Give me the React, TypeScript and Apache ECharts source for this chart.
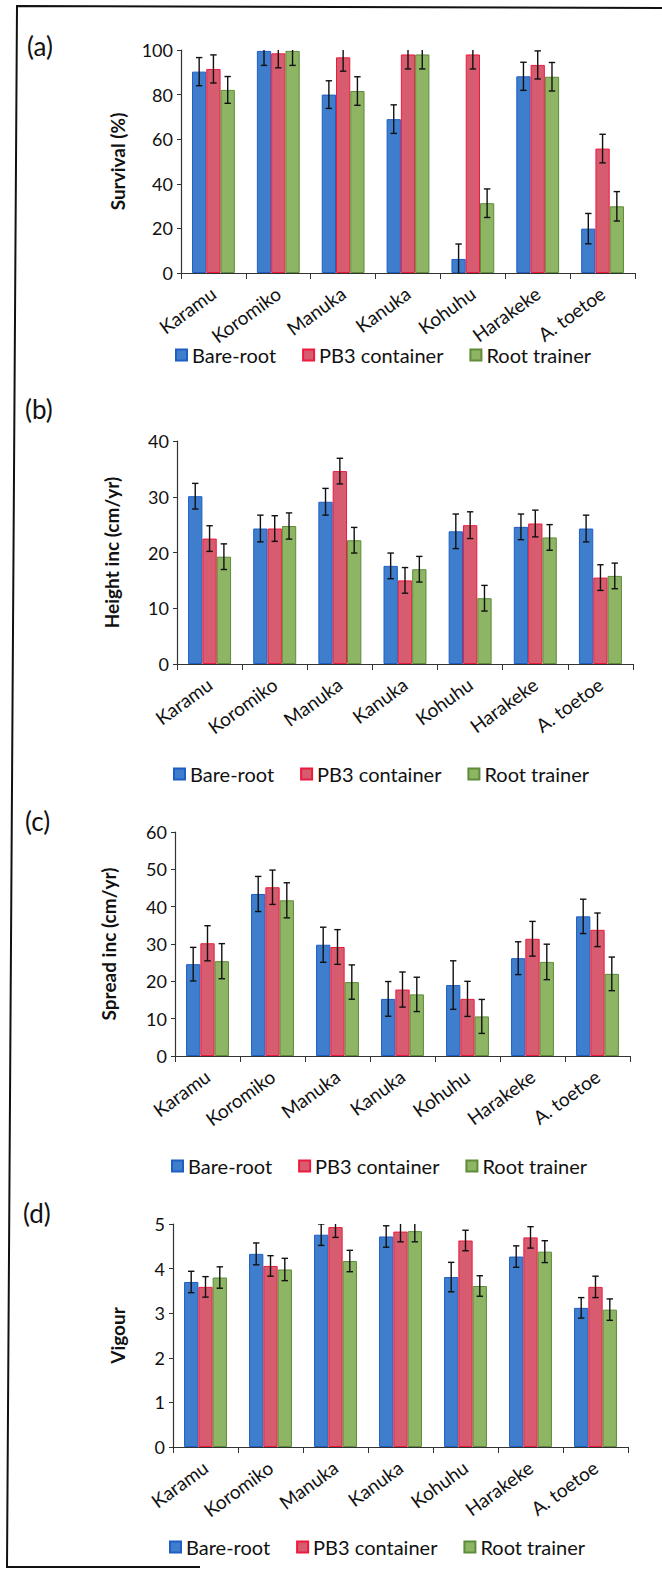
import React, { useEffect, useRef } from "react";
import * as echarts from "echarts";

const categories = ["Karamu", "Koromiko", "Manuka", "Kanuka", "Kohuhu", "Harakeke", "A. toetoe"];
const seriesNames = ["Bare-root", "PB3 container", "Root trainer"];

// (a) Survival (%)
const survivalBare = [90.3, 99.6, 80, 69, 6.3, 88.2, 19.9];
const survivalPB3 = [91.5, 98.5, 96.7, 98, 98, 93.3, 55.8];
const survivalRoot = [82.1, 99.6, 81.6, 98, 31.3, 88, 29.9];
const survivalBareErr = [6.3, 6.5, 6.2, 6.4, 6.7, 6.3, 6.8];
const survivalPB3Err = [6.3, 6.5, 6.2, 6.5, 6.5, 6.3, 6.4];
const survivalRootErr = [6.0, 6.5, 6.4, 6.5, 6.4, 6.4, 6.6];

// (b) Height inc (cm/yr)
const heightBare = [30.1, 24.3, 29.1, 17.6, 23.8, 24.6, 24.3];
const heightPB3 = [22.5, 24.3, 34.6, 15.0, 24.9, 25.2, 15.5];
const heightRoot = [19.25, 24.75, 22.2, 17.0, 11.8, 22.7, 15.8];
const heightBareErr = [2.3, 2.4, 2.4, 2.3, 3.1, 2.3, 2.4];
const heightPB3Err = [2.3, 2.3, 2.3, 2.3, 2.4, 2.4, 2.3];
const heightRootErr = [2.3, 2.35, 2.3, 2.3, 2.3, 2.3, 2.3];

// (c) Spread inc (cm/yr)
const spreadBare = [24.6, 43.4, 29.8, 15.3, 19.0, 26.2, 37.4];
const spreadPB3 = [30.2, 45.2, 29.2, 17.8, 15.3, 31.4, 33.8];
const spreadRoot = [25.4, 41.7, 19.8, 16.5, 10.6, 25.2, 22.0];
const spreadBareErr = [4.5, 4.7, 4.7, 4.65, 6.5, 4.4, 4.6];
const spreadPB3Err = [4.7, 4.6, 4.65, 4.7, 4.7, 4.65, 4.5];
const spreadRootErr = [4.7, 4.7, 4.6, 4.6, 4.55, 4.75, 4.5];

// (d) Vigour
const vigourBare = [3.7, 4.33, 4.76, 4.72, 3.81, 4.27, 3.12];
const vigourPB3 = [3.59, 4.06, 4.93, 4.83, 4.63, 4.7, 3.59];
const vigourRoot = [3.8, 3.98, 4.17, 4.84, 3.61, 4.38, 3.08];
const vigourBareErr = [0.24, 0.245, 0.24, 0.24, 0.33, 0.24, 0.23];
const vigourPB3Err = [0.23, 0.23, 0.23, 0.23, 0.23, 0.24, 0.24];
const vigourRootErr = [0.24, 0.25, 0.24, 0.24, 0.23, 0.245, 0.24];

const panelLabels = ["(a)", "(b)", "(c)", "(d)"];
const yTitles = ["Survival (%)", "Height inc (cm/yr)", "Spread inc (cm/yr)", "Vigour"];
const yMax = [100, 40, 60, 5];
const yInterval = [20, 10, 10, 1];

const FONT = "Lato, 'Open Sans', sans-serif";
const GAP = 0.34;
const fills = ["#3f7ecd", "#d75c70", "#8db563"];
const borders = ["#1f5fc4", "#ee1a3e", "#5e8c3a"];

const grids = [
  { left: 181, top: 50, width: 454, height: 223 },
  { left: 177, top: 441, width: 456, height: 223 },
  { left: 175, top: 832, width: 455, height: 224 },
  { left: 173, top: 1224, width: 455, height: 223 },
];
const nameGaps = [54, 56, 57, 46];
const legendTops = [340, 759, 1151, 1532];
const legendLefts = [170, 168, 166, 164];
const labelPos = [
  [27, 33],
  [25, 396],
  [25, 808],
  [23, 1200],
];

function errorSeries(gi: number, si: number, vals: number[], errs: number[]) {
  return {
    type: "custom",
    xAxisIndex: gi,
    yAxisIndex: gi,
    clip: true,
    silent: true,
    z: 10,
    encode: { x: 0, y: [1, 2] },
    data: vals.map((v, i) => [i, v - errs[i], v + errs[i]]),
    renderItem: (params: any, api: any) => {
      const x = api.value(0);
      const lo = api.coord([x, api.value(1)]);
      const hi = api.coord([x, api.value(2)]);
      const band = api.size([1, 0])[0];
      const bw = (band * (1 - GAP)) / 3;
      const cx = lo[0] - 1.5 * bw + (si + 0.5) * bw;
      const cap = 3.2;
      const style = { stroke: "#111", lineWidth: 1.4 };
      return {
        type: "group",
        children: [
          { type: "line", shape: { x1: cx, y1: hi[1], x2: cx, y2: lo[1] }, style },
          { type: "line", shape: { x1: cx - cap, y1: hi[1], x2: cx + cap, y2: hi[1] }, style },
          { type: "line", shape: { x1: cx - cap, y1: lo[1], x2: cx + cap, y2: lo[1] }, style },
        ],
      };
    },
  };
}

export default function App() {
  const ref = useRef<HTMLDivElement>(null);
  useEffect(() => {
    if (!ref.current) return;
    const chart = echarts.init(ref.current, undefined, { renderer: "svg" });
    const panels = [
      { v: [survivalBare, survivalPB3, survivalRoot], e: [survivalBareErr, survivalPB3Err, survivalRootErr] },
      { v: [heightBare, heightPB3, heightRoot], e: [heightBareErr, heightPB3Err, heightRootErr] },
      { v: [spreadBare, spreadPB3, spreadRoot], e: [spreadBareErr, spreadPB3Err, spreadRootErr] },
      { v: [vigourBare, vigourPB3, vigourRoot], e: [vigourBareErr, vigourPB3Err, vigourRootErr] },
    ];
    const series: any[] = [];
    panels.forEach((p, gi) => {
      p.v.forEach((vals, si) => {
        series.push({
          type: "bar",
          name: seriesNames[si],
          xAxisIndex: gi,
          yAxisIndex: gi,
          data: vals,
          barGap: "0%",
          barCategoryGap: GAP * 100 + "%",
          itemStyle: { color: fills[si], borderColor: borders[si], borderWidth: 1 },
        });
      });
      p.v.forEach((vals, si) => series.push(errorSeries(gi, si, vals, p.e[si])));
    });
    const option: any = {
      animation: false,
      backgroundColor: "#ffffff",
      textStyle: { fontFamily: FONT },
      grid: grids.map((g) => ({ ...g })),
      xAxis: grids.map((g, gi) => ({
        type: "category",
        gridIndex: gi,
        data: categories,
        axisLine: { lineStyle: { color: "#333", width: 1.2 } },
        axisTick: { show: true, length: 6, lineStyle: { color: "#333" } },
        axisLabel: { rotate: 36, fontSize: 19, color: "#111", margin: 18, fontFamily: FONT, interval: 0 },
      })),
      yAxis: grids.map((g, gi) => ({
        type: "value",
        gridIndex: gi,
        min: 0,
        max: yMax[gi],
        interval: yInterval[gi],
        name: yTitles[gi],
        nameLocation: "middle",
        nameGap: nameGaps[gi],
        nameTextStyle: { fontSize: 19, fontWeight: "bold", color: "#111", fontFamily: FONT },
        axisLine: { show: true, lineStyle: { color: "#333", width: 1.2 } },
        axisTick: { show: true, length: 4, lineStyle: { color: "#333" } },
        axisLabel: { fontSize: 18, color: "#111", margin: 8, fontFamily: FONT },
        splitLine: { show: false },
      })),
      legend: grids.map((g, gi) => ({
        data: seriesNames,
        top: legendTops[gi],
        left: legendLefts[gi],
        icon: "rect",
        itemWidth: 11,
        itemHeight: 11,
        itemGap: 26,
        selectedMode: false,
        textStyle: { fontSize: 20, color: "#111", fontFamily: FONT },
      })),
      graphic: [
        ...panelLabels.map((t, i) => ({
          type: "text",
          left: labelPos[i][0],
          top: labelPos[i][1],
          style: { text: t, fontSize: 26, fill: "#111", fontFamily: FONT },
        })),
        {
          type: "polyline",
          shape: { points: [[662, 8], [17, 6], [7, 1567], [200, 1567]] },
          style: { stroke: "#111", lineWidth: 2, fill: "none" },
        },
      ],
      series,
    };
    chart.setOption(option);
    return () => chart.dispose();
  }, []);
  return (
    <div
      ref={ref}
      style={{ position: "absolute", left: 0, top: 0, width: 662, height: 1569 }}
    />
  );
}
